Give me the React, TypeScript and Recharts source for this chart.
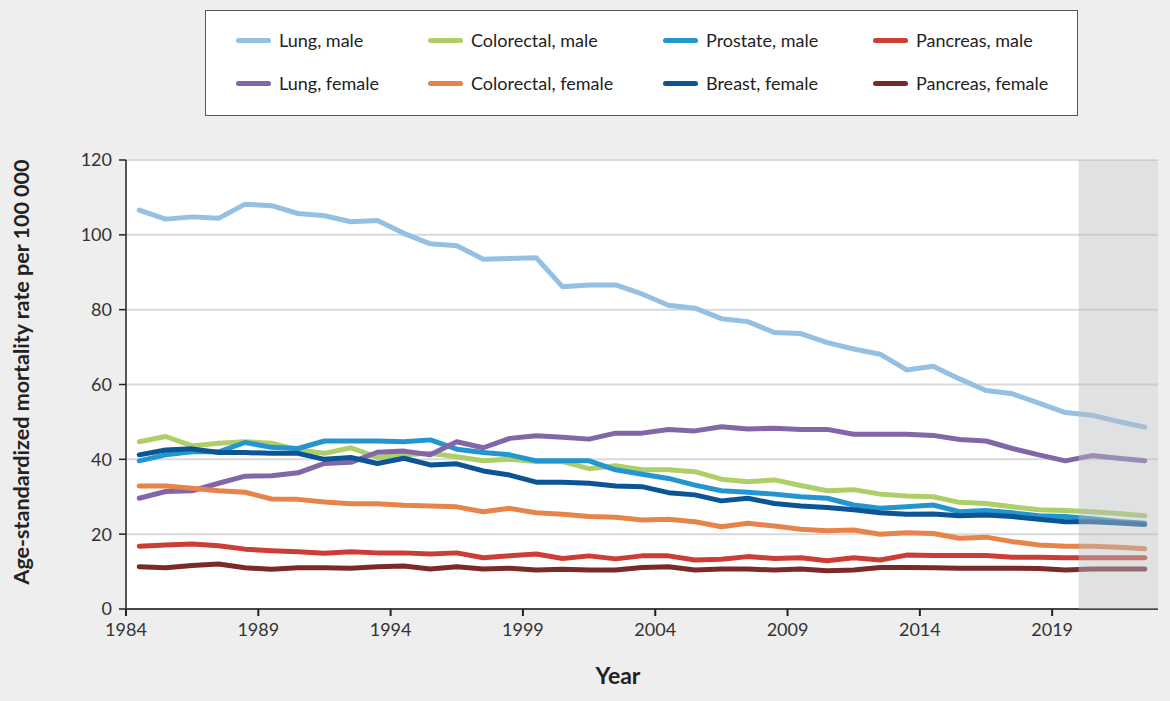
import { LineChart, Line, XAxis, YAxis, CartesianGrid, ReferenceArea } from "recharts";

const years = [
  1984, 1985, 1986, 1987, 1988, 1989, 1990, 1991, 1992, 1993, 1994, 1995, 1996,
  1997, 1998, 1999, 2000, 2001, 2002, 2003, 2004, 2005, 2006, 2007, 2008, 2009,
  2010, 2011, 2012, 2013, 2014, 2015, 2016, 2017, 2018, 2019, 2020, 2021, 2022,
];

const lungMale = [
  106.6, 104.2, 104.8, 104.4, 108.2, 107.8, 105.7, 105.1, 103.5, 103.8, 100.4, 97.6, 97.1,
  93.5, 93.7, 93.9, 86.1, 86.6, 86.6, 84.2, 81.2, 80.4, 77.6, 76.8, 73.9, 73.6,
  71.2, 69.5, 68.1, 63.9, 64.9, 61.5, 58.4, 57.5, 55.0, 52.5, 51.8, 50.1, 48.6,
];
const colorectalMale = [
  44.7, 46.1, 43.6, 44.3, 44.7, 44.3, 42.5, 41.6, 43.1, 40.5, 41.2, 41.6, 40.7,
  39.6, 40.0, 39.4, 39.4, 37.5, 38.3, 37.2, 37.2, 36.7, 34.7, 34.0, 34.5, 33.0,
  31.6, 31.9, 30.7, 30.2, 30.0, 28.5, 28.2, 27.3, 26.5, 26.3, 26.0, 25.5, 24.9,
];
const prostateMale = [
  39.6, 41.2, 42.0, 42.0, 44.5, 43.2, 42.9, 44.9, 44.9, 44.9, 44.7, 45.2, 42.7,
  41.8, 41.2, 39.6, 39.6, 39.6, 37.2, 36.0, 34.9, 33.1, 31.6, 31.2, 30.7, 30.0,
  29.6, 27.8, 26.9, 27.3, 27.8, 26.0, 26.3, 25.7, 24.9, 24.7, 24.1, 23.4, 22.9,
];
const pancreasMale = [
  16.8, 17.1, 17.4, 16.9, 16.0, 15.6, 15.3, 14.9, 15.3, 15.0, 15.0, 14.7, 15.0,
  13.7, 14.2, 14.7, 13.5, 14.2, 13.4, 14.2, 14.2, 13.1, 13.3, 14.0, 13.5, 13.7,
  12.9, 13.7, 13.1, 14.4, 14.3, 14.3, 14.3, 13.8, 13.8, 13.7, 13.7, 13.7, 13.7,
];
const lungFemale = [
  29.6, 31.4, 31.6, 33.6, 35.5, 35.6, 36.4, 38.9, 39.2, 41.9, 42.2, 41.2, 44.7,
  43.1, 45.6, 46.3, 45.9, 45.4, 47.0, 47.0, 48.0, 47.6, 48.7, 48.1, 48.3, 48.0,
  48.0, 46.7, 46.7, 46.7, 46.4, 45.3, 44.9, 42.9, 41.2, 39.6, 41.0, 40.3, 39.6,
];
const colorectalFemale = [
  32.9, 32.9, 32.3, 31.6, 31.2, 29.4, 29.3, 28.6, 28.1, 28.1, 27.7, 27.5, 27.3,
  26.0, 26.9, 25.7, 25.3, 24.7, 24.5, 23.8, 24.0, 23.3, 22.0, 22.9, 22.2, 21.3,
  20.9, 21.1, 20.0, 20.4, 20.2, 18.9, 19.2, 18.0, 17.1, 16.8, 16.8, 16.5, 16.1,
];
const breastFemale = [
  41.2, 42.5, 42.8, 41.8, 41.8, 41.6, 41.6, 40.0, 40.5, 38.9, 40.3, 38.5, 38.8,
  36.9, 35.8, 33.9, 33.9, 33.6, 32.9, 32.7, 31.1, 30.5, 28.9, 29.6, 28.2, 27.5,
  27.1, 26.5, 25.7, 25.3, 25.4, 24.9, 25.1, 24.7, 24.0, 23.3, 23.3, 23.0, 22.6,
];
const pancreasFemale = [
  11.3, 11.0, 11.6, 12.0, 11.0, 10.6, 11.0, 11.0, 10.9, 11.3, 11.5, 10.7, 11.3,
  10.7, 10.9, 10.4, 10.6, 10.4, 10.4, 11.1, 11.3, 10.4, 10.7, 10.7, 10.4, 10.7,
  10.2, 10.4, 11.1, 11.1, 11.0, 10.9, 10.9, 10.9, 10.8, 10.4, 10.7, 10.7, 10.7,
];

const xTicks = [1984, 1989, 1994, 1999, 2004, 2009, 2014, 2019];
const yTicks = [0, 20, 40, 60, 80, 100, 120];
const projectedFrom = 2020;
const projectedTo = 2023;

const series = [
  { key: "lungMale", name: "Lung, male", color: "#95c0e2", values: lungMale },
  { key: "colorectalMale", name: "Colorectal, male", color: "#aecf68", values: colorectalMale },
  { key: "prostateMale", name: "Prostate, male", color: "#2396cf", values: prostateMale },
  { key: "pancreasMale", name: "Pancreas, male", color: "#cc3d35", values: pancreasMale },
  { key: "lungFemale", name: "Lung, female", color: "#8266a8", values: lungFemale },
  { key: "colorectalFemale", name: "Colorectal, female", color: "#e6844a", values: colorectalFemale },
  { key: "breastFemale", name: "Breast, female", color: "#0b5596", values: breastFemale },
  { key: "pancreasFemale", name: "Pancreas, female", color: "#7b2a2a", values: pancreasFemale },
];

// points sit in the middle of each year band
const chartData = years.map((year, i) => {
  const row: Record<string, number> = { x: year + 0.5 };
  series.forEach((s) => {
    row[s.key] = s.values[i];
  });
  return row;
});

const font = "Lato, 'Open Sans', sans-serif";
const tickStyle = { fontSize: 18, fill: "#333", fontFamily: font };

function LegendBox() {
  const cols = [236, 428, 663, 873];
  return (
    <div
      style={{
        position: "absolute",
        left: 205,
        top: 10,
        width: 871,
        height: 104,
        background: "#fff",
        border: "1.5px solid #555",
      }}
    >
      {series.map((s, i) => (
        <div
          key={s.key}
          style={{
            position: "absolute",
            left: cols[i % 4] - 206,
            top: (i < 4 ? 29 : 72) - 11,
            height: 22,
            display: "flex",
            alignItems: "center",
            fontFamily: font,
            fontSize: 18,
            color: "#222",
            whiteSpace: "nowrap",
          }}
        >
          <span
            style={{
              display: "inline-block",
              width: 35,
              height: 5,
              borderRadius: 3,
              background: s.color,
              marginRight: 8,
            }}
          />
          {s.name}
        </div>
      ))}
    </div>
  );
}

export default function App() {
  return (
    <div
      style={{
        position: "absolute",
        left: 0,
        top: 0,
        width: 1170,
        height: 701,
        background: "#eeeeee",
        fontFamily: font,
      }}
    >
      <LineChart
        width={1170}
        height={701}
        data={chartData}
        margin={{ top: 160, right: 12, bottom: 62, left: 66 }}
      >
        <CartesianGrid vertical={false} stroke="#d9d9d9" strokeWidth={2} fill="#ffffff" fillOpacity={1} />
        <XAxis
          dataKey="x"
          type="number"
          domain={[1984, 2023]}
          ticks={xTicks}
          allowDataOverflow
          height={30}
          tick={tickStyle}
          tickSize={7}
          tickMargin={7}
          stroke="#333"
          axisLine={{ stroke: "#444", strokeWidth: 2 }}
          tickLine={{ stroke: "#222", strokeWidth: 2 }}
        />
        <XAxis
          xAxisId="top"
          orientation="top"
          type="number"
          domain={[1984, 2023]}
          height={0}
          tick={false}
          tickLine={false}
          axisLine={{ stroke: "#222", strokeWidth: 2 }}
        />
        <YAxis
          domain={[0, 120]}
          ticks={yTicks}
          width={60}
          tick={tickStyle}
          tickSize={7}
          tickMargin={7}
          axisLine={{ stroke: "#555", strokeWidth: 2 }}
          tickLine={{ stroke: "#222", strokeWidth: 1.5 }}
        />
        <YAxis
          yAxisId="right"
          orientation="right"
          domain={[0, 120]}
          width={0}
          tick={false}
          tickLine={false}
          axisLine={{ stroke: "#666", strokeWidth: 2 }}
        />
        {series.map((s) => (
          <Line
            key={s.key}
            dataKey={s.key}
            name={s.name}
            type="linear"
            stroke={s.color}
            strokeWidth={5}
            strokeLinecap="round"
            strokeLinejoin="round"
            dot={false}
            activeDot={false}
            isAnimationActive={false}
          />
        ))}
        <ReferenceArea
          x1={projectedFrom}
          x2={projectedTo}
          y1={0}
          y2={120}
          fill="#b9bcc1"
          fillOpacity={0.45}
          stroke="none"
          zIndex={1000}
        />
      </LineChart>
      <LegendBox />
      <div
        style={{
          position: "absolute",
          left: 21,
          top: 372,
          transform: "translate(-50%, -50%) rotate(-90deg)",
          whiteSpace: "nowrap",
          fontWeight: 700,
          fontSize: 21.5,
          color: "#222",
        }}
      >
        Age-standardized mortality rate per 100 000
      </div>
      <div
        style={{
          position: "absolute",
          left: 618,
          top: 675,
          transform: "translate(-50%, -50%)",
          whiteSpace: "nowrap",
          fontWeight: 700,
          fontSize: 23,
          color: "#222",
        }}
      >
        Year
      </div>
    </div>
  );
}
